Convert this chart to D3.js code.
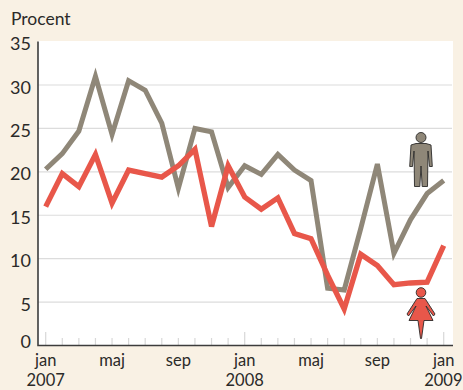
<!DOCTYPE html>
<html><head><meta charset="utf-8">
<script src="https://cdnjs.cloudflare.com/ajax/libs/d3/7.8.5/d3.min.js"></script>
<style>html,body{margin:0;padding:0;background:#f9f1e4}svg{display:block}text{font-family:Lato,sans-serif;fill:#2b2a29}</style>
</head><body><svg id="c" width="463" height="390"></svg>
<script>
const months = d3.range(25);
const men = [20.3,22.1,24.7,31,24.3,30.5,29.4,25.6,18.1,25,24.6,18.2,20.7,19.7,22,20.2,19,6.6,6.4,13.5,20.9,10.6,14.5,17.5,19];
const women = [16,19.8,18.3,22,16.4,20.2,19.8,19.4,20.7,22.6,13.7,20.7,17.1,15.7,17,12.9,12.3,8.1,4.2,10.5,9.2,7,7.2,7.3,11.5];
const yTicks = [0,5,10,15,20,25,30,35];
const xLabels = [[0,"jan","2007"],[4,"maj",""],[8,"sep",""],[12,"jan","2008"],[16,"maj",""],[20,"sep",""],[24,"jan","2009"]];
const svg = d3.select("#c");
const x = d3.scaleLinear().domain([0,24]).range([45.7,443.7]);
const y = d3.scaleLinear().domain([0,35]).range([345.5,41.6]);
svg.append("rect").attr("x",38).attr("y",41).attr("width",415).attr("height",304).attr("fill","#fff");
svg.append("text").attr("x",11).attr("y",25).attr("font-size",17.5).text("Procent");
svg.selectAll(".g").data(yTicks.filter(d=>d>0&&d<35)).join("line")
  .attr("x1",38).attr("x2",452).attr("y1",d=>y(d)).attr("y2",d=>y(d))
  .attr("stroke","#dcdcdc").attr("stroke-width",1.2);
svg.selectAll(".t").data(months).join("line")
  .attr("x1",d=>x(d)).attr("x2",d=>x(d)).attr("y1",345).attr("y2",d=>d%12===0?332:338)
  .attr("stroke","#d8d8d8").attr("stroke-width",1.2);
svg.selectAll(".yl").data(yTicks).join("text")
  .attr("x",31).attr("y",d=>y(d)+(d===0?2.5:8.5)).attr("text-anchor","end").attr("font-size",18).text(d=>d);
const line = d3.line().x((d,i)=>x(i)).y(d=>y(d));
svg.append("path").attr("d",line(men)).attr("fill","none").attr("stroke","#8f8778").attr("stroke-width",5).attr("stroke-linejoin","miter");
svg.append("path").attr("d",line(women)).attr("fill","none").attr("stroke","#e8574a").attr("stroke-width",5.3).attr("stroke-linejoin","miter");
svg.append("path").attr("d","M38,41.5V345.5H453").attr("fill","none").attr("stroke","#3c3c3c").attr("stroke-width",1.6);
const xl = svg.selectAll(".xl").data(xLabels).join("g");
xl.append("text").attr("x",d=>x(d[0])).attr("y",365.5).attr("text-anchor","middle").attr("font-size",16.5).text(d=>d[1]);
xl.append("text").attr("x",d=>d[0]===24?462.5:x(d[0])).attr("y",386).attr("text-anchor",d=>d[0]===24?"end":"middle").attr("font-size",16.5).text(d=>d[2]);
// man icon
const man = svg.append("g").attr("transform","translate(421,133)").attr("fill","#8f8778").attr("stroke","#2b2a29").attr("stroke-width",0.9);
man.append("circle").attr("cx",0).attr("cy",4.5).attr("r",5);
man.append("path").attr("d","M-10,12L-5,10.5H5L10,12L11.3,33.5H8.5L7,18L6.5,53.5H1.2L0,33L-1.2,53.5H-6.5L-7,18L-8.5,33.5H-11.3Z");
// woman icon
const wom = svg.append("g").attr("transform","translate(421,288)").attr("fill","#e8574a").attr("stroke","#2b2a29").attr("stroke-width",0.9);
wom.append("circle").attr("cx",0).attr("cy",4.5).attr("r",4.8);
wom.append("path").attr("d","M-4,10.5H4L14,26L12.5,28L5,18L12,32.5H3L0.5,50.5H-0.5L-3,32.5H-12L-5,18L-12.5,28L-14,26Z");
</script></body></html>
